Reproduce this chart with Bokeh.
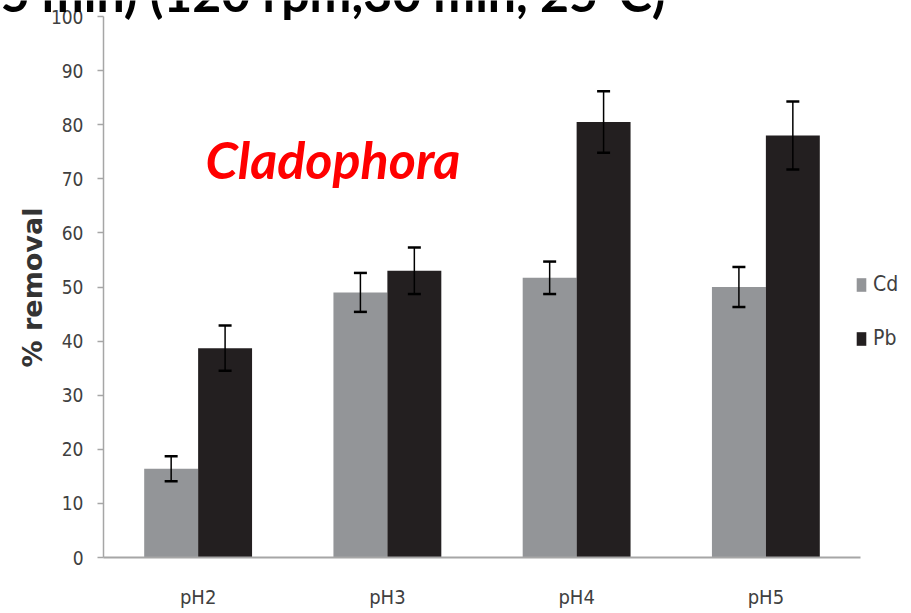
import math
from bokeh.plotting import figure
from bokeh.models import (Range1d, Whisker, TeeHead, ColumnDataSource,
                          Legend, LegendItem, Label, FixedTicker, GlobalInlineStyleSheet)
from bokeh.embed import file_html
from bokeh.resources import INLINE

# ---- data ----
categories = ["pH2", "pH3", "pH4", "pH5"]
cd_values = [16.4, 49.0, 51.7, 50.0]
cd_errors = [2.3, 3.6, 3.0, 3.7]
pb_values = [38.7, 53.0, 80.5, 78.0]
pb_errors = [4.2, 4.3, 5.7, 6.3]
series_names = ["Cd", "Pb"]
y_ticks = [0, 10, 20, 30, 40, 50, 60, 70, 80, 90, 100]
title_text = "15 min) (120 rpm,30 min, 25°C)"
species_text = "Cladophora"
y_label = "% removal"

CD_COLOR = "#939598"
PB_COLOR = "#231f20"
NARROW = "DejaVu Sans Condensed"

idx = list(range(len(categories)))
off = 0.1425
bw = 0.285
centers = [i + 0.5 for i in idx]
src = ColumnDataSource(dict(
    xcd=[c - off for c in centers],
    xpb=[c + off for c in centers],
    cd=cd_values,
    pb=pb_values,
    cd_lo=[v - e for v, e in zip(cd_values, cd_errors)],
    cd_hi=[v + e for v, e in zip(cd_values, cd_errors)],
    pb_lo=[v - e for v, e in zip(pb_values, pb_errors)],
    pb_hi=[v + e for v, e in zip(pb_values, pb_errors)],
))

W, H = 911, 613
LEFT, BOTTOM = 103, 56
PX_PER_CAT = 189.25
PX_PER_UNIT = 5.41
frame_w = W - LEFT
frame_h = H - BOTTOM
LBL_DY = 18  # empirical baseline correction for screen-unit labels

css = GlobalInlineStyleSheet(css=(
    "html, body { margin: 0 !important; padding: 0; overflow: hidden; }"
    ".ovl { position: absolute !important; left: 0 !important; top: 0 !important;"
    " pointer-events: none; }"))

p = figure(width=W, height=H,
           x_range=Range1d(0, frame_w / PX_PER_CAT),
           y_range=Range1d(0, frame_h / PX_PER_UNIT),
           output_backend="svg", toolbar_location=None,
           min_border_left=LEFT, min_border_right=0,
           min_border_top=0, min_border_bottom=BOTTOM)
p.stylesheets = [css]
p.xgrid.visible = False
p.ygrid.visible = False
p.outline_line_color = None
p.background_fill_color = "white"
p.border_fill_color = "white"

cd_r = p.vbar(x="xcd", top="cd", width=bw, source=src,
              fill_color=CD_COLOR, line_color=None)
pb_r = p.vbar(x="xpb", top="pb", width=bw, source=src,
              fill_color=PB_COLOR, line_color=None)

for base, lo, hi in [("xcd", "cd_lo", "cd_hi"), ("xpb", "pb_lo", "pb_hi")]:
    w = Whisker(base=base, lower=lo, upper=hi, source=src,
                line_color="black", line_width=1.5,
                upper_head=TeeHead(size=13, line_width=2.5, line_color="black"),
                lower_head=TeeHead(size=13, line_width=2.5, line_color="black"),
                level="annotation")
    p.add_layout(w)

# y axis
ya = p.yaxis[0]
ya.ticker = FixedTicker(ticks=y_ticks)
ya.bounds = (y_ticks[0], y_ticks[-1])
ya.axis_line_color = "#a6a6a6"
ya.axis_line_width = 1.5
ya.major_tick_line_color = "#a6a6a6"
ya.major_tick_line_width = 1.5
ya.major_tick_out = 6
ya.major_tick_in = 0
ya.minor_tick_line_color = None
ya.major_label_standoff = 14
ya.major_label_text_font = NARROW
ya.major_label_text_font_size = "19px"
ya.major_label_text_color = "#404040"

# x axis
xa = p.xaxis[0]
xa.ticker = FixedTicker(ticks=centers)
xa.major_label_overrides = {c: name for c, name in zip(centers, categories)}
xa.bounds = (0, len(categories))
xa.axis_line_color = "#a6a6a6"
xa.axis_line_width = 2
xa.major_tick_line_color = None
xa.minor_tick_line_color = None
xa.major_label_standoff = 21
xa.major_label_text_font = NARROW
xa.major_label_text_font_size = "20px"
xa.major_label_text_color = "#404040"

# legends (one item each for exact placement)
for r, name, vy in [(cd_r, series_names[0], 261), (pb_r, series_names[1], 207)]:
    leg = Legend(items=[LegendItem(label=name, renderers=[r])],
                 location=(752, vy), padding=0, margin=0, spacing=0,
                 border_line_color=None, background_fill_alpha=0,
                 glyph_width=12, glyph_height=17, label_standoff=6,
                 label_height=17,
                 label_text_font=NARROW, label_text_font_size="21px",
                 label_text_color="#404040")
    p.add_layout(leg)

# species label inside the plot frame
p.add_layout(Label(x=205 - LEFT, y=frame_h - 176 + LBL_DY, x_units="screen", y_units="screen",
                   text=species_text, text_font="Lato", text_font_style="bold italic",
                   text_font_size="52px", text_color="#ff0000",
                   text_baseline="alphabetic", text_align="left"))

# transparent overlay figure (frame = whole canvas) for texts outside the plot frame
o = figure(width=W, height=H, x_range=Range1d(0, 1), y_range=Range1d(0, 1),
           x_axis_type=None, y_axis_type=None, min_border=0,
           output_backend="svg", toolbar_location=None,
           background_fill_alpha=0, border_fill_alpha=0, outline_line_color=None,
           css_classes=["ovl"])
o.stylesheets = [css]
o.add_layout(Label(x=665, y=H - 10 + LBL_DY, x_units="screen", y_units="screen",
                   text=title_text, text_font="Lato", text_font_style="bold",
                   text_font_size="50px", text_color="black",
                   text_baseline="alphabetic", text_align="right"))
o.add_layout(Label(x=32, y=H - 287, x_units="screen", y_units="screen",
                   text=y_label, angle=math.pi / 2, text_font="DejaVu Sans",
                   text_font_style="bold", text_font_size="27px", text_color="#333333",
                   text_baseline="middle", text_align="center"))

open("out.html", "w").write(file_html([p, o], INLINE))
